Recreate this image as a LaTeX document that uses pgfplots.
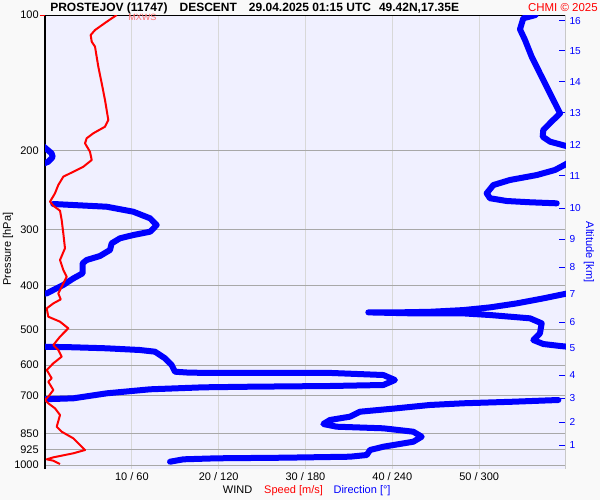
\documentclass[border=0pt]{standalone}
\usepackage{pgfplots}
\pgfplotsset{compat=1.18}
\usepackage{fontspec}
\setmainfont{Liberation Sans}
\definecolor{pagebg}{RGB}{249,249,249}
\definecolor{plotbg}{RGB}{240,240,255}
\definecolor{hgrid}{RGB}{168,168,168}
\definecolor{vgrid}{RGB}{216,216,216}
\definecolor{rightline}{RGB}{200,200,200}
\definecolor{windblue}{RGB}{0,0,255}
\definecolor{windred}{RGB}{255,0,0}
\definecolor{mxws}{RGB}{255,110,110}
\newcommand{\tlfont}{\fontsize{8.25}{9}\selectfont}
\tikzset{dirline/.style={draw=windblue, line width=4.5pt, line cap=round, line join=round, mark=none}}
\begin{document}
\begin{tikzpicture}
% page background (pixel coordinates of the 600x500 reference)
\begin{scope}[x=0.75pt, y=-0.75pt, shift={(-33.75pt,351.75pt)}]
  \fill[pagebg] (0,0) rectangle (600,500);
\end{scope}

% axis 1: background, grid, labels
\begin{axis}[
  at={(0,0)}, anchor=south west,
  width=390.75pt, height=340.5pt, scale only axis,
  xmin=0, xmax=60, ymode=log, ymin=100, ymax=1020.7, y dir=reverse,
  axis line style={draw=none},
  axis background/.style={fill=plotbg},
  xtick={10,20,30,40,50},
  xticklabels={10 / 60, 20 / 120, 30 / 180, 40 / 240, 50 / 300},
  ytick={100,200,300,400,500,600,700,850,925,1000},
  yticklabels={100,200,300,400,500,600,700,850,925,1000},
  yminorticks=false,
  major tick length=0pt,
  xmajorgrids, ymajorgrids,
  x grid style={vgrid, line width=0.75pt},
  y grid style={hgrid, line width=0.75pt},
  tick label style={font=\tlfont},
  xticklabel style={anchor=center, yshift=-6pt},
  yticklabel style={anchor=east, inner sep=0pt, xshift=-4.5pt},
  clip=false,
]
  \draw[black, line width=0.75pt] (axis cs:0,1020.7) -- (axis cs:0,100) -- (axis cs:60,100);
  \draw[windred, line width=0.75pt] ([xshift=-3.75pt]axis cs:0,100) -- (axis cs:0,100);
\end{axis}

% axis 2: wind direction + altitude scale
\begin{axis}[
  at={(0,0)}, anchor=south west,
  width=390.75pt, height=340.5pt, scale only axis,
  xmin=0, xmax=360, ymode=log, ymin=100, ymax=1020.7, y dir=reverse,
  axis x line=none, axis y line*=right,
  y axis line style={draw=rightline, line width=0.75pt},
  ytick={902.7,802.6,709.9,631.0,549.5,481.2,416.9,363.1,314.7,268.5,227.9,194.5,165.1,140.8,120.2,103.1},
  yticklabels={1,2,3,4,5,6,7,8,9,10,11,12,13,14,15,16},
  yminorticks=false,
  tick align=inside, major tick length=5.25pt,
  ytick style={windblue, line width=0.75pt},
  yticklabel style={text=windblue, font=\fontsize{7.6}{9}\selectfont, anchor=west, inner sep=0pt, xshift=2.5pt},
]
\addplot[dirline] coordinates {(339,100) (330.5,101.7) (328.2,107.6) (331.7,113.7) (336.3,123.8) (342.0,134.8) (347.8,146.8) (352.4,157.1) (355.9,165.4) (351.2,171.1) (344.3,180.1) (343.9,186.4) (349.0,191.2) (359.3,195.2) (362,196)};
\addplot[dirline] coordinates {(-1,196) (4.6,203.0) (5.3,206.8) (2.3,211.8) (-1,214)};
\addplot[dirline] coordinates {(361,213.6) (352.4,221.0) (339.8,226.8) (321.3,232.6) (309.8,238.7) (305.2,249.0) (307.5,255.4) (319.0,259.0) (335.1,260.7) (353.6,262.1)};
\addplot[dirline] coordinates {(5.7,263.0) (19.6,264.4) (42.6,266.7) (61.0,273.6) (72.6,283.0) (77.2,292.9) (72.6,303.1) (61.0,308.3) (51.8,313.5) (46.1,321.6) (44.9,332.8) (38.0,343.2) (28.8,350.3) (26.0,356.3) (26.0,375.0) (19.6,384.9) (12.6,398.1) (5.7,408.4) (1.2,415.6) (-1,416)};
\addplot[dirline] coordinates {(361,415.6) (344.3,426.3) (325.9,437.4) (307.5,446.4) (289.0,452.6) (266.0,456.6) (243.0,458.0) (223.4,458.0) (254.5,460.3) (289.0,460.3) (307.5,464.2) (335.1,472.1) (343.2,484.3) (342.0,509.7) (337.4,527.5) (344.3,538.4) (355.9,543.9) (361,545.9)};
\addplot[dirline] coordinates {(-1,545.9) (19.6,547.5) (42.6,550.4) (65.6,555.2) (76.0,560.0) (82.9,579.2) (87.5,599.5) (89.8,620.4) (100.2,623.6) (141.7,624.5) (198.1,624.5) (233.8,631.0) (241.8,647.3) (233.8,664.1) (196.9,667.5) (141.7,669.9) (109.4,672.0) (72.6,678.9) (42.6,693.0) (19.6,710.9) (-1,714.5)};
\addplot[dirline] coordinates {(354.7,717.1) (323.6,723.4) (289.0,729.3) (266.0,735.6) (243.0,748.2) (217.7,761.3) (210.7,781.1) (196.9,794.3) (192.3,810.8) (201.6,822.0) (233.8,828.8) (254.5,843.3) (260.3,865.2) (254.5,887.6) (233.8,910.6) (224.6,926.1) (222.3,950.1) (210.7,958.4) (164.7,963.3) (118.6,966.3) (95.6,971.3) (86.4,983.3)};
\end{axis}

% axis 3: wind speed
\begin{axis}[
  at={(0,0)}, anchor=south west,
  width=390.75pt, height=340.5pt, scale only axis,
  xmin=0, xmax=60, ymode=log, ymin=100, ymax=1020.7, y dir=reverse,
  hide axis,
]
\addplot[windred, line width=1.5pt, line join=round, mark=none] coordinates {(8.26,100) (7.11,103.5) (5.76,108.0) (5.26,110.8) (5.38,114.6) (5.76,117.6) (6.14,130.3) (6.53,141.8) (6.91,154.5) (7.29,171.1) (6.91,177.1) (5.56,183.2) (4.80,187.9) (4.61,192.8) (5.18,201.3) (5.38,210.0) (4.41,217.4) (3.26,223.0) (2.11,228.7) (1.53,238.7) (1.15,249.0) (0.58,259.9) (0.96,265.3) (1.73,272.2) (1.92,285.5) (2.11,305.6) (2.30,329.9) (1.73,350.3) (2.11,368.7) (2.50,381.8) (1.92,401.8) (1.53,415.6) (1.81,428.5) (0.96,437.4) (0.20,448.7) (0.38,468.2) (1.73,480.3) (2.68,496.8) (1.73,518.6) (0.96,541.2) (1.53,555.2) (1.92,574.5) (0.96,594.3) (0.20,615.0) (0.77,641.7) (0.38,653.0) (0.96,681.3) (0.38,705.1) (0.0,717.1) (0.38,729.3) (1.15,748.2) (1.73,774.3) (1.35,822.0) (1.92,843.3) (3.26,872.3) (4.61,926.1) (3.26,941.9) (0.96,961.4) (0.20,971.3) (0.96,978.2) (1.73,994.9)};
\end{axis}

% texts (pixel coordinates of the reference)
\begin{scope}[x=0.75pt, y=-0.75pt, shift={(-33.75pt,351.75pt)}]
  \node[anchor=west, inner sep=0pt, font=\bfseries\fontsize{9}{10}\selectfont] at (50,8)
    {PROSTEJOV (11747)\hspace{9pt}DESCENT\hspace{9pt}29.04.2025 01:15 UTC\hspace{6pt}49.42N,17.35E};
  \node[anchor=east, inner sep=0pt, text=windred, font=\fontsize{8.6}{10}\selectfont] at (598,8) {CHMI © 2025};
  \node[anchor=west, inner sep=0pt, text=mxws, font=\fontsize{6.8}{7}\selectfont] at (128,17) {MXWS};
  \node[inner sep=0pt, font=\tlfont] at (306.7,491)
    {WIND\hspace{9pt}\textcolor{windred}{Speed [m/s]}\hspace{8pt}\textcolor{windblue}{Direction [°]}};
  \node[rotate=90, inner sep=0pt, font=\tlfont] at (8,249) {Pressure [hPa]};
  \node[rotate=-90, inner sep=0pt, text=windblue, font=\tlfont] at (589,252) {Altitude [km]};
\end{scope}
\end{tikzpicture}
\end{document}
